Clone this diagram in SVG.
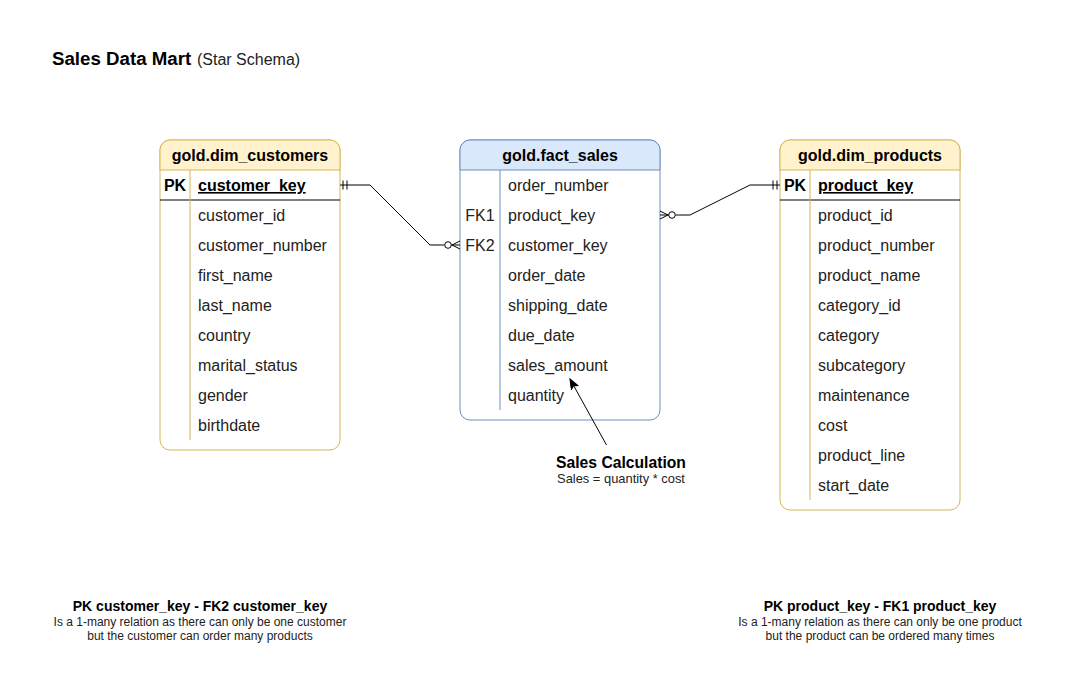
<svg xmlns="http://www.w3.org/2000/svg" width="1075" height="690" viewBox="0 0 1075 690">
<style>
text{font-family:"Liberation Sans",Arial,sans-serif;}
.hdr{font-size:16px;font-weight:bold;fill:#000;text-anchor:middle;}
.row{font-size:16px;fill:#222;}
.key{font-size:16px;font-weight:bold;fill:#000;}
.tag{font-size:16px;fill:#222;text-anchor:middle;}
.pk{font-size:16px;font-weight:bold;fill:#000;text-anchor:middle;}
.dimbox{fill:#fff;stroke:#d6b656;stroke-width:1;}
.dimhdr{fill:#fff2cc;stroke:#d6b656;stroke-width:1;}
.factbox{fill:#fff;stroke:#6c8ebf;stroke-width:1;}
.facthdr{fill:#dae8fc;stroke:#6c8ebf;stroke-width:1;}
.edge{fill:none;stroke:#000;stroke-width:1;}
.notetitle{font-size:14px;font-weight:bold;fill:#000;text-anchor:middle;}
.notebody{font-size:12px;fill:#222;text-anchor:middle;}
</style>
<defs>
<marker id="arrow" markerWidth="12" markerHeight="10" refX="10" refY="4" orient="auto" markerUnits="userSpaceOnUse">
<path d="M0,0 L10,4 L0,8 L2.5,4 Z" fill="#000" stroke="#000" stroke-width="1"/>
</marker>
</defs>
<rect width="1075" height="690" fill="#fff"/>

<g id="title">
<text x="52" y="65" font-size="18.7" font-weight="bold" fill="#000">Sales Data Mart</text>
<text x="197" y="65" font-size="16" fill="#222">(Star Schema)</text>
</g>

<g id="dim_customers">
<rect class="dimbox" x="160" y="140" width="180" height="310" rx="10" ry="10"/>
<path class="dimhdr" d="M160,170 L160,150 A10,10 0 0 1 170,140 L330,140 A10,10 0 0 1 340,150 L340,170 Z"/>
<line x1="160" y1="200" x2="340" y2="200" stroke="#000" stroke-width="1"/>
<line x1="190" y1="170" x2="190" y2="440" stroke="#d6b656" stroke-width="1"/>
<text class="hdr" x="250" y="161">gold.dim_customers</text>
<text class="pk" x="175" y="191">PK</text>
<text class="key" x="198" y="191" text-decoration="underline">customer_key</text>
<text class="row" x="198" y="221">customer_id</text>
<text class="row" x="198" y="251">customer_number</text>
<text class="row" x="198" y="281">first_name</text>
<text class="row" x="198" y="311">last_name</text>
<text class="row" x="198" y="341">country</text>
<text class="row" x="198" y="371">marital_status</text>
<text class="row" x="198" y="401">gender</text>
<text class="row" x="198" y="431">birthdate</text>
</g>

<g id="fact_sales">
<rect class="factbox" x="460" y="140" width="200" height="280" rx="10" ry="10"/>
<path class="facthdr" d="M460,170 L460,150 A10,10 0 0 1 470,140 L650,140 A10,10 0 0 1 660,150 L660,170 Z"/>
<line x1="500" y1="170" x2="500" y2="410" stroke="#6c8ebf" stroke-width="1"/>
<text class="hdr" x="560" y="161">gold.fact_sales</text>
<text class="row" x="508" y="191">order_number</text>
<text class="tag" x="480" y="221">FK1</text>
<text class="row" x="508" y="221">product_key</text>
<text class="tag" x="480" y="251">FK2</text>
<text class="row" x="508" y="251">customer_key</text>
<text class="row" x="508" y="281">order_date</text>
<text class="row" x="508" y="311">shipping_date</text>
<text class="row" x="508" y="341">due_date</text>
<text class="row" x="508" y="371">sales_amount</text>
<text class="row" x="508" y="401">quantity</text>
</g>

<g id="dim_products">
<rect class="dimbox" x="780" y="140" width="180" height="370" rx="10" ry="10"/>
<path class="dimhdr" d="M780,170 L780,150 A10,10 0 0 1 790,140 L950,140 A10,10 0 0 1 960,150 L960,170 Z"/>
<line x1="780" y1="200" x2="960" y2="200" stroke="#000" stroke-width="1"/>
<line x1="810" y1="170" x2="810" y2="500" stroke="#d6b656" stroke-width="1"/>
<text class="hdr" x="870" y="161">gold.dim_products</text>
<text class="pk" x="795" y="191">PK</text>
<text class="key" x="818" y="191" text-decoration="underline">product_key</text>
<text class="row" x="818" y="221">product_id</text>
<text class="row" x="818" y="251">product_number</text>
<text class="row" x="818" y="281">product_name</text>
<text class="row" x="818" y="311">category_id</text>
<text class="row" x="818" y="341">category</text>
<text class="row" x="818" y="371">subcategory</text>
<text class="row" x="818" y="401">maintenance</text>
<text class="row" x="818" y="431">cost</text>
<text class="row" x="818" y="461">product_line</text>
<text class="row" x="818" y="491">start_date</text>
</g>

<g id="connectors">
<!-- customers PK to fact FK2 -->
<path class="edge" d="M340,185 L370,185 L430,245 L444.5,245"/>
<line class="edge" x1="343" y1="180.5" x2="343" y2="189.5"/>
<line class="edge" x1="347" y1="180.5" x2="347" y2="189.5"/>
<circle cx="448" cy="245" r="3.3" fill="#fff" stroke="#000" stroke-width="1"/>
<path class="edge" d="M451.3,245 L460,245 M452,245 L460,241 M452,245 L460,249"/>
<!-- products PK to fact FK1 -->
<path class="edge" d="M780,185 L750,185 L690,215 L675.5,215"/>
<line class="edge" x1="773" y1="180.5" x2="773" y2="189.5"/>
<line class="edge" x1="777" y1="180.5" x2="777" y2="189.5"/>
<circle cx="672" cy="215" r="3.3" fill="#fff" stroke="#000" stroke-width="1"/>
<path class="edge" d="M668.7,215 L660,215 M668,215 L660,211 M668,215 L660,219"/>
<!-- annotation arrow -->
<line class="edge" x1="606.5" y1="445" x2="570" y2="379" marker-end="url(#arrow)"/>
</g>

<g id="sales_calc">
<text x="621" y="468" font-size="15.7" font-weight="bold" fill="#000" text-anchor="middle">Sales Calculation</text>
<text x="621" y="483" font-size="12.9" fill="#222" text-anchor="middle">Sales = quantity * cost</text>
</g>

<g id="note_customers">
<text class="notetitle" x="200" y="611">PK customer_key - FK2 customer_key</text>
<text class="notebody" x="200" y="626">Is a 1-many relation as there can only be one customer</text>
<text class="notebody" x="200" y="640">but the customer can order many products</text>
</g>

<g id="note_products">
<text class="notetitle" x="880" y="611">PK product_key - FK1 product_key</text>
<text class="notebody" x="880" y="626">Is a 1-many relation as there can only be one product</text>
<text class="notebody" x="880" y="640">but the product can be ordered many times</text>
</g>
</svg>
